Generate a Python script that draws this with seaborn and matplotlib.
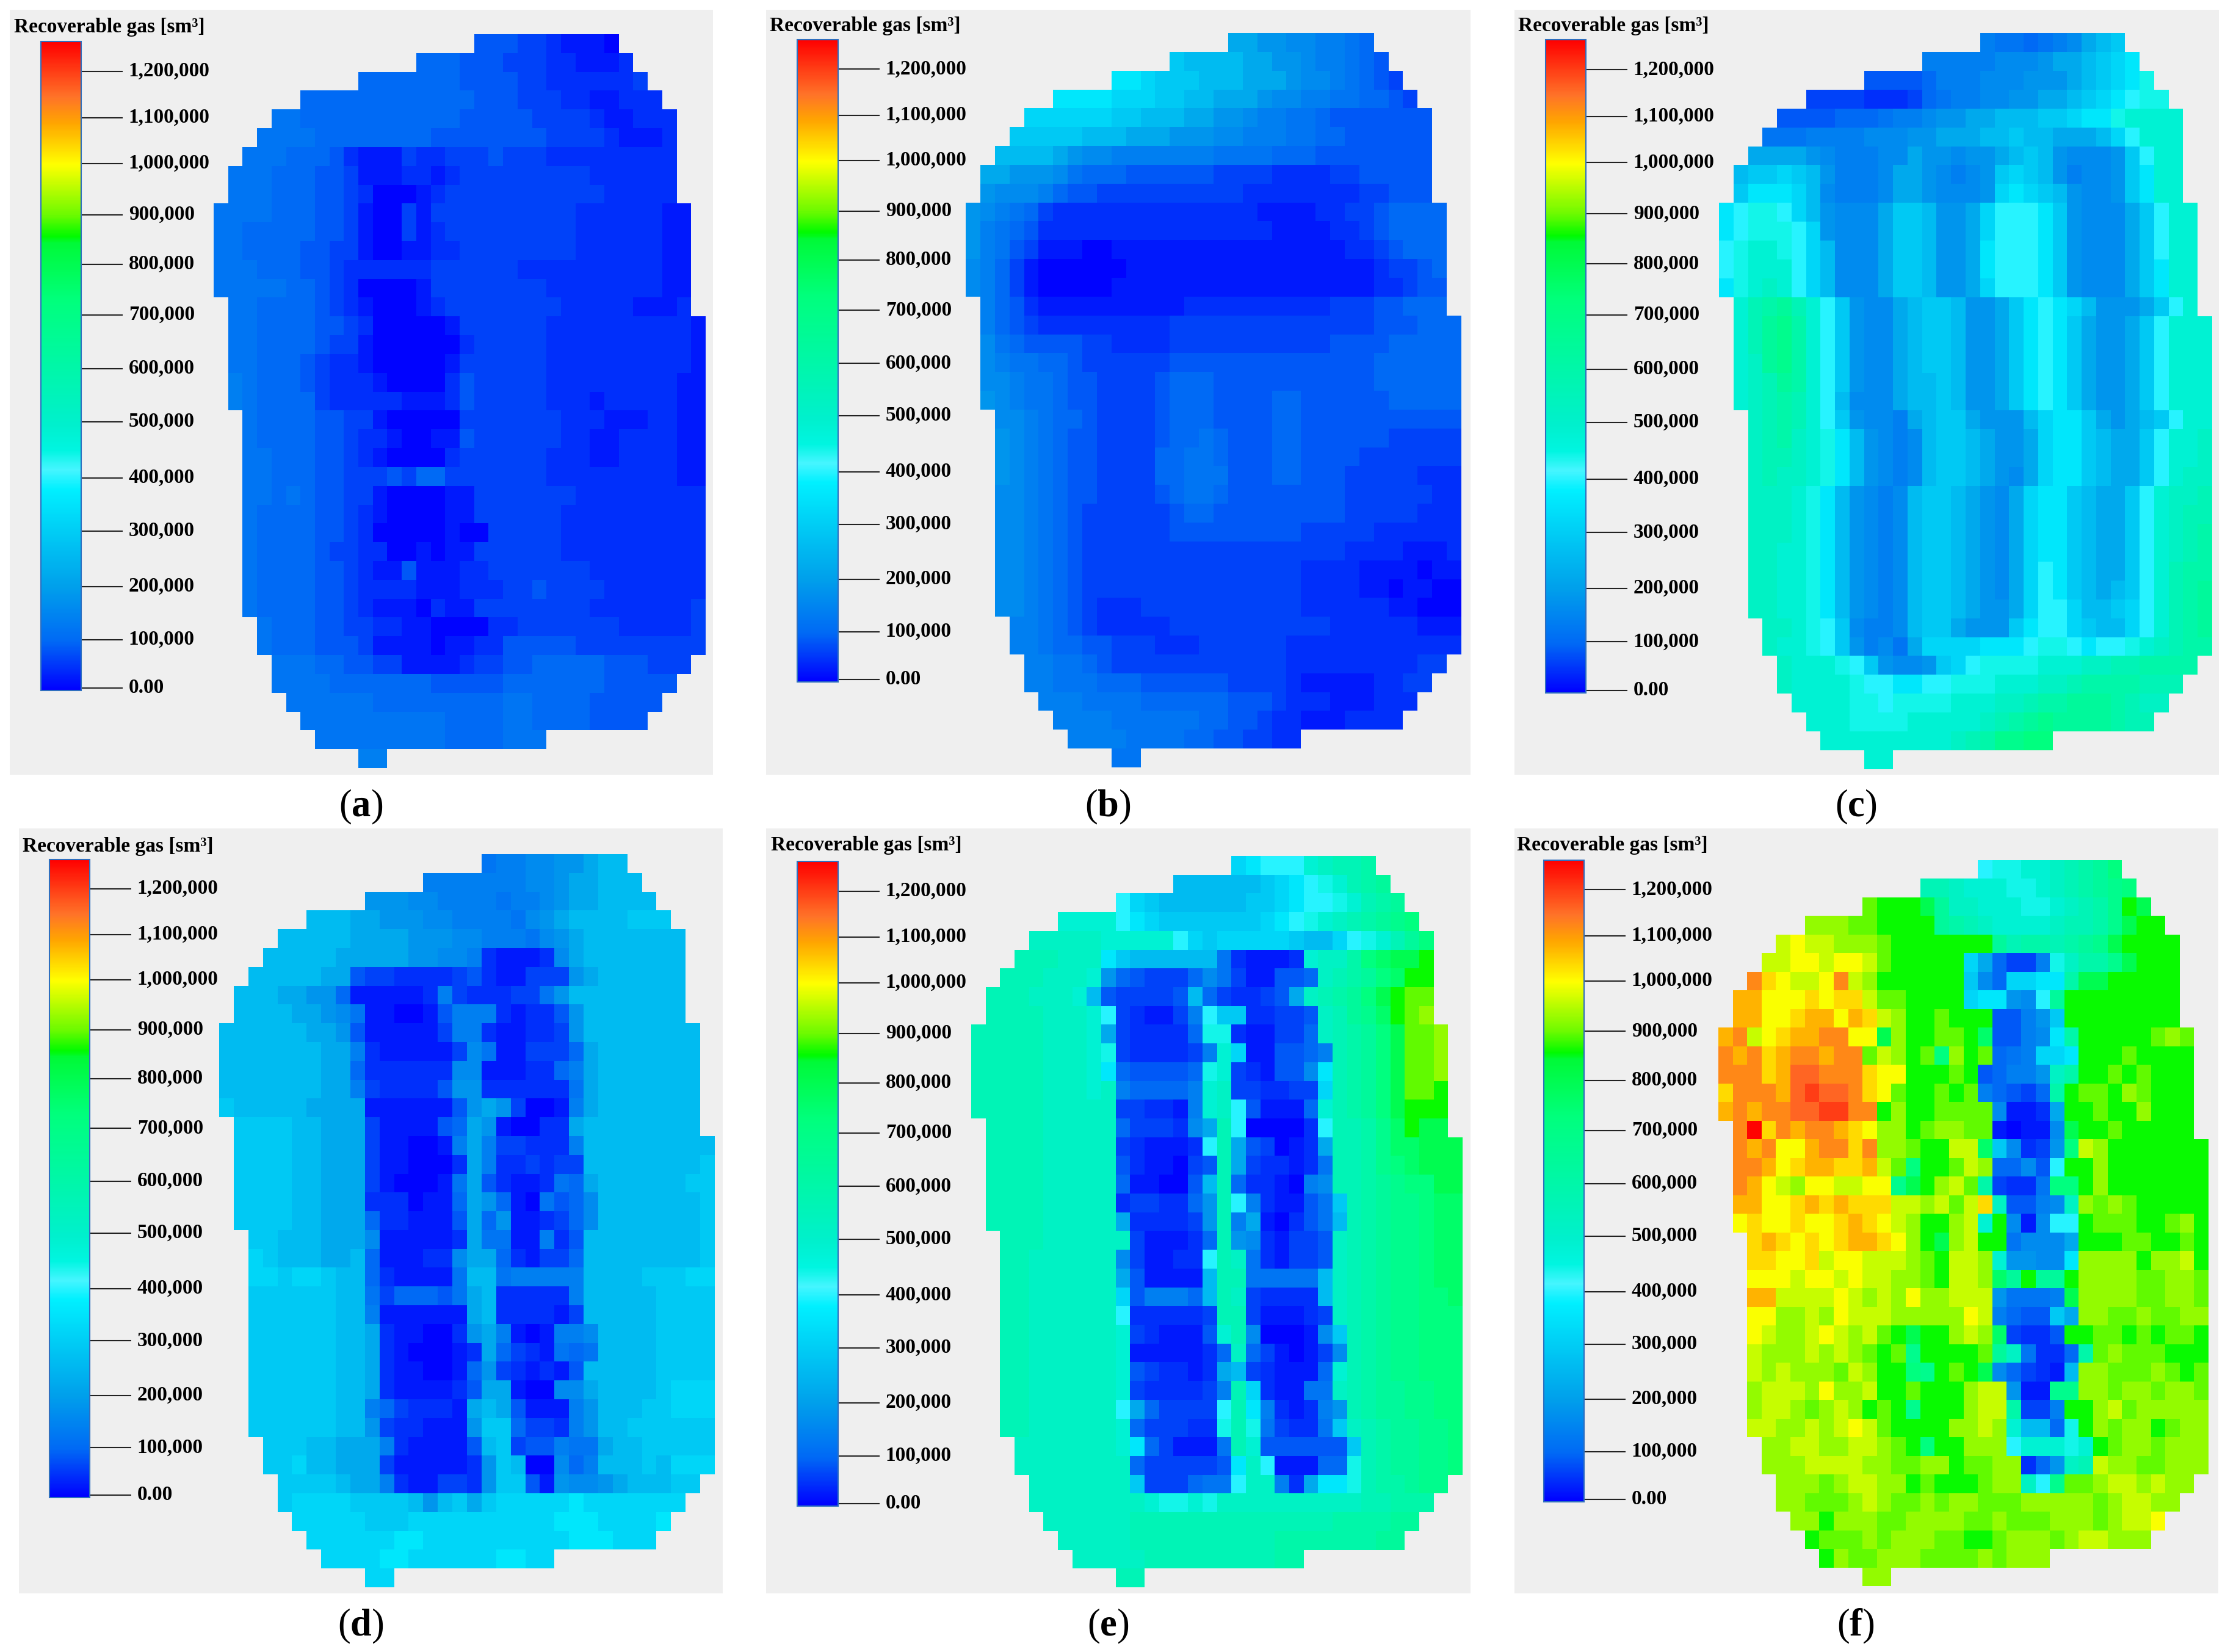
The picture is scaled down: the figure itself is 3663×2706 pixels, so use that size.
import numpy as np
import pandas as pd
import matplotlib
matplotlib.use("Agg")
import matplotlib.pyplot as plt
from matplotlib.colors import LinearSegmentedColormap, FuncNorm
from matplotlib.ticker import FuncFormatter
from matplotlib.transforms import ScaledTranslation
import seaborn as sns

# one character per grid cell, spaces are only for readability
CODE = "0123456789abcdefghijklmnopqrstuvwxyzZ"
CODE_VALUES = [0, 20000, 40000, 60000, 80000, 100000, 120000, 140000, 160000, 180000,
               220000, 260000, 290000, 320000, 360000, 400000, 440000, 480000, 520000,
               560000, 600000, 640000, 680000, 720000, 760000, 800000, 860000, 895000,
               925000, 960000, 995000, 1035000, 1075000, 1120000, 1160000, 1200000, 1260000]

ROW_START = [18, 14, 10, 6, 4, 3, 2, 1, 1, 0, 0, 0, 0, 0, 1, 1, 1, 1, 1, 1, 2, 2, 2, 2, 2, 2, 2, 2, 2, 2, 2, 3, 3, 4, 4, 5, 6, 7, 10]
ROW_END = [27, 28, 29, 30, 31, 31, 31, 31, 31, 32, 32, 32, 32, 32, 32, 33, 33, 33, 33, 33, 33, 33, 33, 33, 33, 33, 33, 33, 33, 33, 33, 33, 33, 32, 31, 30, 29, 22, 11]

PANEL_A = [
"4443321110",
"555444333221112",
"55555554444332222223",
"5555555555554443332211222",
"6655555555555444443333211222",
"66665555555544444444333321112",
"6665554 2111 3 22 333 433 3222 222222",
"6665554431112212333333333222222",
"66655544 3 2 000 1 2 3333 3333 333 22222",
"6666555443 100 3 1 33 33333333 222222 11",
"6655555443 100 3 1 23 33333333 222222 11",
"6655554433 100 1 1 22 33333333 222222 11",
"6665554432 222 2 2 33 33332222 222222 11",
"6666655432 00001 3 3 333333 22222 222 11",
"665555432 1 000 1 23 3333333 22222 111 2",
"665555443 2 00000 1 3 33333 222222 2222 1",
"665555433 1 00000 0 2 33333 222222 2222 1",
"665554322 1 00000 1 3 33333 222222 2222 1",
"765554322 2 10000 2 4 33333 222222 2221 1",
"765555322 2 22111 2 4 33333 222122 2221 1",
"655554433 100000 3 33333 32221 1122 11",
"655554432 210011 4 33333 32211 2222 11",
"665554432 100002 3 33333 22211 2222 11",
"665554433 34 3 55 3 3 33333 22222 2222 11",
"665654433 1000011 3 3 333 3 3222 2222 222 1",
"655554432 100001 1 3 33333 2222 2222 2222 1",
"655554432 000001 00 3 3333 2222 2222 2222",
"655554332 200101 13 3 3333 2222 2222 2222",
"655554432 114 1 11 22 33 3333 3222 2222 22",
"655554432 2221 11 22 2 33 4333 3222 2222 22",
"655554432 1110 21 13 3 3333 3322 2222 2333",
"65554433 2211 0000 22 3333 3332 2222 3333 3",
"6555444 31 1110 112 2 4444 4333 3333 3334",
"66655 4433 1111 2 3344 5555 5444 3333 33",
"6666555555544444555555544444",
"66666655555555566555544444",
"666666666655556655554444",
"6666666665555666",
"77",
]

PANEL_B = [
"aa99887765",
"cbbbbaa99877654",
"eedcccbbbaaa98876543",
"eeeedddccbbaaa98877665543",
"ddddddccbbbaa998776654444444",
"cccccbbbaaa999887776655444444",
"bbbba9887777777666655544444444",
"aa9998655544444433332222334444 4",
"9888754433333333332222222233444",
"987653222222222222221111223345555",
"976542222222222222222111122345555",
"976431 1100 111111111111 1111 2234555",
"87531 00000 0 1111111111111 1111233455",
"875310 0000 11111111111 111111122344555",
"75421111111111222222222233344555",
"754322222222233333333333333444555",
"865444433222233333333333444455555",
"876655433333344444444444444555555",
"887665443333455544444444444555555",
"987665443333455544445544444455555",
"88765543333455544445544444444444",
"98765443333455654445544444433333",
"98765443333556654445544443333333",
"98765443333556664445544433333222",
"88765443333456654444444433333322",
"88765433333345544444444433333222",
"88765433333344444444433333222222",
"88765433333333333333333322221112",
"88765433333333333333322221111011",
"88765433333333333333322221101100",
"88765432223333333333322222211000",
"7765432222233333333333222222111",
"7765544333222333333222222222222",
"77665433333333333322222222233",
"7766655544444433332111112233",
"77766665555554443222111222",
"777766666655443221112222",
"7777666655443322",
"66",
]

PANEL_C = [
"7665678abc",
"777778889aabcde",
"44445777888999abcdeg",
"3333222356778899aabcdefgg",
"4444555677899aabbbccdeeghhhh",
"66677778889 9aaabbcbbaaabdfhh",
"aaaa9877788a99899abcb98889cfhh",
"bccdcb97778aa98789cdcb97889cehh",
"ceeedb87778aa98889dedcb9889cehh",
"efggfdb9888ac cb9 9adfffec98 8 8acfhhh",
"efgggfd9888acc b99adfffec9888acfhh",
"fghhgfdb888acc b99aefffec9888acfhh",
"fghhhfdb888acc b99aefffec9888acehh",
"eghihfdb888acc b99adfffec9888acehh",
"hjkljhfc988abccb99acefedb9 99acfhhh",
"hjlmkhfc988abccb99acefec a99acfhhhh",
"hjlmkhfc988abccb99acefec a99acfhhhh",
"hilmkhfc988abccb99acefec a99acfhhhh",
"hijlkhfc988abbcb99acefec a99acfhhhh",
"hijkjhfb888abbcb99acefec a99acfhhhh",
"ijkjhfc9887abcca999bdeeca9abcfhhhh",
"ijkihgeb9878bccba9 9adeecbaacfhhii",
"ijjihgeb9878bccba9 9adeecbaacfhhii",
"ijiihgeb9878bccba9 8adeecbaacfhiii",
"iiihgeb98 78bccba98adeecbaacfhiij",
"iiihgeb9878bccba98adeecbaacfhijj",
"iiihgeb9878bccba98adeecbaacfhijk",
"iihhgeb9878bccba98adeecbaacfhijk",
"iihhgeb9878bccba98adfecbaacfhjkk",
"iihhgeb9878bccb a98adfecbabcfhjkl",
"iihhgeb9878bccb a99adffdbbcdfhjkl",
"iihgfc8778bcca999ceffdcbbdfhjkl",
"ihhgfc9786addddeeefggfeffghijkk",
"ihhhgfc9889cdfgggghhhiijjkkkk",
"ihhhhgffeeffggghhhiijkkkkjjj",
"hhhhggfgggghhhiijkklllkjii",
"hhhgggghhhhhijklmllllkjj",
"hhhhhhhhhijkmmnn",
"hh",
]

PANEL_D = [
"6778899abb",
"7777777889aabbb",
"99988777767789aabbbb",
"bbbaa9998877776 89abbbbcc",
"bbbbbaaaa999887776 89abbbbbbb",
"bbbbbaaaaa99887 21112 8 abbbbbbb",
"bbbbbaa 4 332222 34 2 11 33 3 9 abbbbbb",
"bbbaa99 5 11111 2 7 3 2 22 33 6 9 bbbbbbb",
"bbbbaa98 6 1 100 1 4 777 2 1 22 4 9 bbbbbbbb",
"bbbbbbaa9 4 11111 3 77 2 11 22 3 9 bbbbbbbb",
"bbbbbbbaa 7 2 11111 3 8 6 11 33 3 5 abbbbbbb",
"bbbbbbbaa 5 2 22222 8 8 1 11 22 5 7 abbbbbbb",
"bbbbbbbaa 7 3 2222 4 9 9 2 22 222 6 abbbbbbb",
"cbbbbbaaa a 1 1111 1 4 9 a 9 3 00 1 7 a bbbbbbbb",
"ccccbbaa a 3 1111 4 5 a 9 1 0 0 2 2 a bbbbbbbb",
"ccccbbaa a 3 11001 7 a 7 33 22 2 7 bbbbbbbbb",
"ccccbbaa a 3 11000 2 a 7 22 32 3 3 bbbbbbbbc",
"ccccbbaa a 3 10001 6 a 4 211 2 6 5 abbbbbbcc",
"ccccbbaa a 2 22011 5 a 9 5 10 6 4 5 8 bbbbbbbc",
"ccccbbaa a 5 22111 4 a 5 9 11 2 3 5 8 bbbbbbbc",
"ccbbbaaa 8 1 1111 2 a 66 11 7 2 4 bbbbbbbbc",
"dcbbbaab 5 111 22 8 aa 5 2 1 33 5 bbbbbbbbc",
"ddcddcbb 5 2 1111 6 bb 6 7777 7 bbbbcccdd",
"ccccccbb 6 3 555 4 6 ab 2 222 2 7 bbbbbcccc",
"ccccccbb 7 111111 ab 2 22 2 1 3 bbbbbcccc",
"ccccccbb a 2 1100 2 9 a 7 1 0 1 77 8 bbbbcccc",
"ccccccbb a 2 1000 1 2 a 5 3 21 6 5 6 bbbbcccc",
"ccccccbb a 2 1100 1 5 9 3 21 2 1 4 b bbbbcccc",
"ccccccbb a 2 1111 2 4 a a 1 00 88 a bbbbcddd",
"ccccccbb 7 5 3 2221 a b a 4 11 1 7 9 bbbccddd",
"ccccccbb 9 3 22111 9 cc 5 33 2 7 9 bbcccccc",
"cccbbaa a 7 2 1111 4 bc 3 44 7 66 a bbccccc",
"ccdbbaaa 3 111112 9 c b 00 8 5 7 b bbcbddd",
"ccccbaa 7 2 11 332 9 cc 4 1 98 89 abbbcc",
"cddddccccb9bcacdddddeddddddd",
"dddddcccddddddddddeeedddde",
"ddddddeeddddddddddeeeddd",
"ddddeeddddddeedd",
"dd",
]

PANEL_E = [
"defffhijjk",
"bbbbbbcdefghjkl",
"fdcbbbbbbccdeffghjkl",
"hhhhfedcccccccdefghijklmn",
"iiiiihhhhhfdcdddddcbbdfghjln",
"jjjiii e cbb bbb b 6 21112 h iiknoppq",
"jjjiiih 9 5 4333 5 8 6 3 11 44 5 i jklnoqq",
"jjjiiih b 4 3333 4 b 5 3 22 3 4 a i jklnpqr",
"jjjjiiih f 3 2 11 3 7 f cc 2 2 33 4 i jlmoqrs",
"jjjjjiiih a 3 222 2 5 g g 2 11 33 5 i jklnprrs",
"jjjjjiiih g 3 2222 3 7 h d 11 44 5 7 jklnprrs",
"jjjjjiiih e 5 4444 5 g h 3 21 44 8 e jklnprrs",
"jjjjjiiih i 7 5555 7 h i 3 32 23 3 d jklnprrq",
"jjjjjiiii i 3 3221 7 h i f 4 111 5 h jklnpqqq",
"jjjjiiii i 5 3332 8 a j f 0000 2 f jjkmoqpp",
"jjjjiiiii 3 2111 2 f j a 43 0 1 2 a jjkmooppp",
"jjjjiiiii 4 2110 3 4 j a 3221 2 6 jjkmnoppp",
"jjjjiiiii 5 1100 4 b j 5 2210 7 8 jjklmnnpp",
"jjjjiiiii 2 3322 5 9 j f 7 211 4 6 c jklmmnoo",
"jjjjiiiii a 2222 3 9 j 7 a 10 2 4 6 b jklmmnoo",
"jjjiiiii i 3 111 2 5 j 9 8 2 1 33 4 i jklmmnoo",
"jjiiiiii 8 3 11 22 f j i 6 2 1 33 4 i jklmmnoo",
"jjiiiiii a 4 1111 b jj 66666 b i jklmmnoo",
"jjiiiiii d 4 777 5 b ji 3 2222 b i jklmmnno",
"jjiiiiii f 22222 3 jj 3 1112 3 i jklmmnnn",
"jjiiiiii h 3 2111 4 hj 8 000 1 8 c jklmmnnn",
"jjiiiiii h 11111 2 5 i 5 3 1 0 1 3 8 jklmmnnn",
"jjiiiiii h 4 322 1 2 ab 3211 1 5 h jklmmnnn",
"jjiiiiii h 3 2222 3 7 j d 2 11 66 i jkllmmnn",
"jjiiiiii f a 5 3333 f j e 7 21 2 7 9 jkllmmnn",
"jjiiiiii h 5 333 22 g j g 6 3 22 6 c i jkllmmn",
"iiiiiii h e 5 3 111 6 j h 4444 44 c jkllmmn",
"iiiiiiii 5 33333 4 e i f 111 55 g jkllmmn",
"iiiiiii c 333 566 f ii 7 2 a ee g jkklmm",
"iiiiiiiihgghgiiiiiiiiiijjkkk",
"iiiiiijjjjjjjjjjjjjjkkkkll",
"iiiiijjjjjjjjjjkkkkkkkll",
"iiiiijjjjjjjjjkk",
"jj",
]

PANEL_F = [
"fgghhijkln",
"jjihhhgghijklmn",
"rqqqpliihhhgghijkmqp",
"sssrrqqqqlkjihhhhijjkmpqq",
"tuttsssrqqqqqqqljkkjklmpqqqq",
"ttuutuut r qqqqq d a 5 33 7 g i kkmpqqq",
"xvuttux ts qqqqqq c 8 5 d d e e k ppqqqqq",
"wwuuuvuvvt rr qqqq d ee 9 8 f l qqqqqqqq",
"wwuuvwwuwv t s qqrqqq 4 4 7 9 c qqqqqqqq",
"wxtuvwwxxuu p s q q rr q o 4 4 7 8 e k qqqqqrsr",
"xwxvwxxwxx rtsqrnsqr 567dde qqqrqqqq",
"xxxvwyyxxx v u u q qqr q 4 5 7 7 9 i k qqrqrqqq",
"vxxxwyzyyx v u r qqrq r 7 54 3 5 k q rrqsrqqq",
"wxwxxyyzzx x q s qq r r r r 8 11 2 a q qrqqsqqq",
"xZvxwxxwvu s s q r s sr r 1 0 11 8 p qqrqqqqq",
"xwxuuwxxvx s s r qq t t o c 8 23 9 n ts qqqqqqq",
"xxwuvwwvvw t r n qq r t s 5 5 8 4 f q qs qqqqqqq",
"xwutsuuttu u m p q s t r k 3 22 6 n n qs qqqqqqq",
"wwuuvwvwvv v tt s t r t v i 44 7 8 i s rsrqqqqq",
"uvuuvuuvwv u t s qq s t h q 8 1 8 ff q rrrqqrsq",
"vwvuvuvw wvu s q p s t q q 6888 a q qqrrqqrq",
"vvuuvtuu ttt s r q t t s h 99 88 e s sssqsstq",
"uuutuutu tts s r q t t s o l q ll q ssssrrssr",
"wwttttut sts u s s tt t 9 6667 p ssssrrssr",
"uusstsut ttsss s s u t 7 544 c a ssrrsrrss",
"utsstuts t r qpq q s t s o 322 4 qq rrqrqrrq",
"tssststs r q r m q q q q r l i 6 22 5 k rsrrrqqq",
"tstsssrt s q q nm q r q p 8 5 3 21 b s srrrsrqr",
"stttsuss t q qrqq q s t t 9 1 1 m m s srssrssr",
"sttsrsts q r qm qqq s t t k 33 7 qq strsssss",
"ttsststu t r qqqq ss ts h b b 5 g q srssqrss",
"ssttsst tsr q n qq s s s f hhhg h q rssrsss",
"ssstttt ssr rssq r r ss 2 5 9 ij tssrrsss",
"sssrst tssq r q qq r ss i f m r rs ttstss",
"ssrrrstsrrsrssrrrsssssrsttss",
"ssqsssrrssssrrsrrrsssrsttu",
"qrrrsrsssrrqqrsssrsttsss",
"qsrrsssrrrrsrsss",
"ss",
]

PANEL_LABELS = ["a", "b", "c", "d", "e", "f"]
TITLE = "Recoverable gas [sm\u00b3]"
TICK_VALUES = [0, 100000, 200000, 300000, 400000, 500000, 600000, 700000, 800000,
               900000, 1000000, 1100000, 1200000]

# colour bar scale: the printed ticks are not evenly spaced
SCALE_VALUES = [-5000] + TICK_VALUES + [1265000]
SCALE_PX = [1131, 1127, 1048, 961, 870, 783, 690.6, 604, 516, 433, 351.5, 268, 193, 117, 68]
SCALE_POS = [(1131 - p) / (1131 - 68) for p in SCALE_PX]

COLOR_STOPS = [
    (0.0, (0, 0, 255)), (0.075, (0, 105, 245)), (0.16, (0, 160, 235)),
    (0.245, (0, 205, 245)), (0.31, (0, 240, 255)), (0.34, (70, 245, 255)),
    (0.37, (0, 245, 225)), (0.41, (0, 240, 205)), (0.60, (0, 255, 125)),
    (0.69, (0, 250, 55)), (0.70, (0, 250, 0)), (0.734, (110, 250, 0)),
    (0.811, (255, 255, 0)), (0.875, (255, 165, 0)), (0.915, (255, 115, 40)),
    (1.0, (255, 0, 0)),
]

W, H = 3663, 2706
BG = "#efefef"
# panel box, grid box, colour bar x-range and y-range, title origin, label centre (pixels)
LAYOUT = {
    "a": dict(box=(16, 16, 1168, 1269), grid=(350, 56, 1156, 1258), bar=(67, 68, 133, 1131), title=(23, 45), label=(591, 1322)),
    "b": dict(box=(1255, 16, 2409, 1269), grid=(1582, 54, 2394, 1257), bar=(1306, 65, 1373, 1117), title=(1261, 42), label=(1815, 1322)),
    "c": dict(box=(2481, 16, 3635, 1269), grid=(2816, 54, 3624, 1260), bar=(2532, 65, 2598, 1135), title=(2487, 42), label=(3040, 1322)),
    "d": dict(box=(31, 1357, 1184, 2610), grid=(359, 1399, 1171, 2600), bar=(81, 1408, 147, 2453), title=(37, 1386), label=(591, 2664)),
    "e": dict(box=(1255, 1357, 2409, 2610), grid=(1591, 1402, 2396, 2600), bar=(1306, 1411, 1373, 2467), title=(1263, 1384), label=(1815, 2664)),
    "f": dict(box=(2481, 1357, 3634, 2610), grid=(2815, 1409, 3618, 2598), bar=(2529, 1409, 2595, 2460), title=(2485, 1384), label=(3040, 2664)),
}


def decode(rows):
    lookup = dict(zip(CODE, CODE_VALUES))
    grid = np.full((len(rows), max(ROW_END) + 1), np.nan)
    for r, row in enumerate(rows):
        chars = row.replace(" ", "")
        n = ROW_END[r] - ROW_START[r] + 1
        chars = (chars + chars[-1] * n)[:n]
        grid[r, ROW_START[r]:ROW_END[r] + 1] = [lookup[c] for c in chars]
    return pd.DataFrame(grid)


def to_pos(v):
    return np.interp(np.ma.filled(np.ma.asarray(v, dtype=float), np.nan), SCALE_VALUES, SCALE_POS)


def from_pos(t):
    return np.interp(np.ma.filled(np.ma.asarray(t, dtype=float), np.nan), SCALE_POS, SCALE_VALUES)


sns.set_style("white")
plt.rcParams["font.family"] = ["Liberation Serif", "DejaVu Serif"]
plt.rcParams["font.weight"] = "bold"
plt.rcParams["mathtext.fontset"] = "custom"
plt.rcParams["mathtext.rm"] = "Liberation Serif"
plt.rcParams["mathtext.bf"] = "Liberation Serif:bold"

cmap = LinearSegmentedColormap.from_list(
    "gas", [(t, tuple(c / 255 for c in rgb)) for t, rgb in COLOR_STOPS], N=512)
cmap.set_bad((0, 0, 0, 0))

fig = plt.figure(figsize=(W / 100, H / 100), dpi=100, facecolor="white")


def px_axes(l, t, r, b, **kw):
    return fig.add_axes([l / W, 1 - b / H, (r - l) / W, (b - t) / H], **kw)


PANELS = dict(zip(PANEL_LABELS, [PANEL_A, PANEL_B, PANEL_C, PANEL_D, PANEL_E, PANEL_F]))
for key in PANEL_LABELS:
    geo = LAYOUT[key]
    bg = px_axes(*geo["box"], facecolor=BG)
    bg.set_xticks([])
    bg.set_yticks([])
    for s in bg.spines.values():
        s.set_visible(False)

    data = decode(PANELS[key])
    ax = px_axes(*geo["grid"], facecolor=BG)
    cax = px_axes(*geo["bar"])
    norm = FuncNorm((to_pos, from_pos), vmin=SCALE_VALUES[0], vmax=SCALE_VALUES[-1])
    sns.heatmap(data, ax=ax, mask=data.isna(), cmap=cmap, norm=norm, cbar=True, cbar_ax=cax,
                cbar_kws={"ticks": TICK_VALUES}, xticklabels=False, yticklabels=False,
                square=False, linewidths=0)
    ax.set_xlabel("")
    ax.set_ylabel("")
    ax.set_position([geo["grid"][0] / W, 1 - geo["grid"][3] / H,
                     (geo["grid"][2] - geo["grid"][0]) / W, (geo["grid"][3] - geo["grid"][1]) / H])
    for s in ax.spines.values():
        s.set_visible(False)

    cb = ax.collections[0].colorbar
    cb.minorticks_off()
    cb.formatter = FuncFormatter(lambda v, _: "0.00" if abs(v) < 1 else f"{v:,.0f}")
    cb.update_ticks()
    cb.outline.set_edgecolor("#2f6fbf")
    cb.outline.set_linewidth(1.5)
    cb.ax.tick_params(axis="y", which="major", right=True, left=False, length=49, width=1.5,
                      color="#222222", pad=7, labelsize=24, labelcolor="black")
    shift = ScaledTranslation(0, 4 / 100, fig.dpi_scale_trans)
    for lab in cb.ax.get_yticklabels():
        lab.set_fontweight("bold")
        lab.set_transform(lab.get_transform() + shift)

    fig.text(geo["title"][0] / W, 1 - geo["title"][1] / H, TITLE, fontsize=24, fontweight="bold",
             ha="left", va="center", color="black")
    fig.text(geo["label"][0] / W, 1 - geo["label"][1] / H, rf"($\mathbf{{{key}}}$)",
             fontsize=45, fontweight="normal", ha="center", va="center", color="black")

fig.savefig("out.png", dpi=100, facecolor="white")
